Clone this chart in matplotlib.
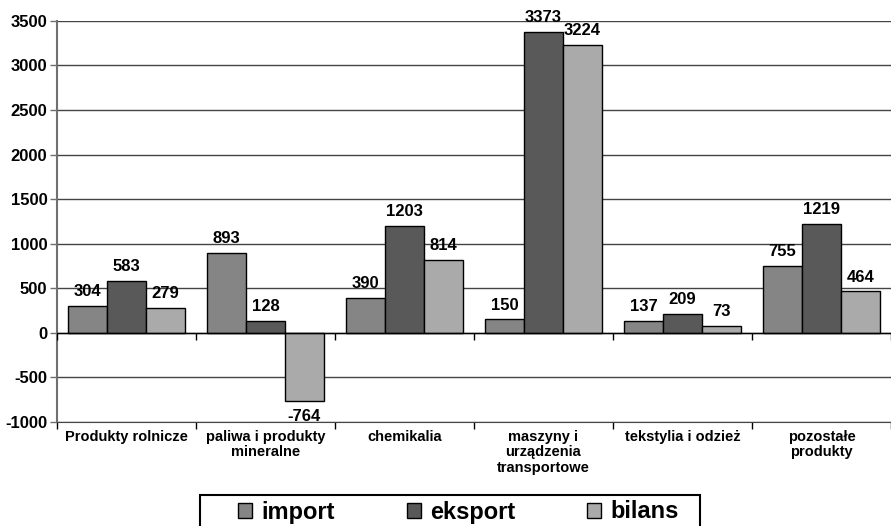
import numpy as np
import matplotlib
matplotlib.use('Agg')
import matplotlib.pyplot as plt
from matplotlib.patches import Rectangle

plt.rcParams['font.family'] = ['Liberation Sans', 'DejaVu Sans']
plt.rcParams['font.weight'] = 'bold'
plt.rcParams['axes.unicode_minus'] = False

categories = ['Produkty rolnicze', 'paliwa i produkty\nmineralne', 'chemikalia',
              'maszyny i\nurządzenia\ntransportowe', 'tekstylia i odzież',
              'pozostałe\nprodukty']
import_vals = [304, 893, 390, 150, 137, 755]
eksport_vals = [583, 128, 1203, 3373, 209, 1219]
bilans_vals = [279, -764, 814, 3224, 73, 464]

series = [('import', import_vals, '#858585'),
          ('eksport', eksport_vals, '#595959'),
          ('bilans', bilans_vals, '#aaaaaa')]

fig = plt.figure(figsize=(8.91, 5.26), dpi=100)
ax = fig.add_axes([57/891, 1 - 422/526, 1 - 57/891, (422 - 20.8)/526])

x = np.arange(len(categories))
w = 0.28
for i, (name, vals, col) in enumerate(series):
    pos = x + (i - 1) * w
    ax.bar(pos, vals, w, color=col, edgecolor='black', linewidth=1,
           label=name, zorder=3)
    for xp, v in zip(pos, vals):
        off = 5 if v >= 0 else -6
        ax.annotate(str(v), (xp, v), xytext=(0, off), textcoords='offset points',
                    ha='center', va='bottom' if v >= 0 else 'top',
                    fontsize=12, fontweight='bold', zorder=4)

ax.set_ylim(-1000, 3500)
ax.set_xlim(-0.5, -0.5 + (891 - 57) / 140)
ax.set_yticks(np.arange(-1000, 3501, 500))
ax.yaxis.grid(True, color='#444444', linewidth=1, zorder=0)
ax.tick_params(axis='y', labelsize=12, length=5, width=1, color='#707070', pad=2)
for lbl in ax.get_yticklabels():
    lbl.set_fontweight('bold')

# category boundaries as major ticks, labels as minor ticks
bounds = np.arange(len(categories) + 1) - 0.5
ax.set_xticks(bounds)
ax.set_xticklabels([])
ax.tick_params(axis='x', which='major', length=5, width=1, color='black')
ax.set_xticks(x, minor=True)
ax.set_xticklabels(categories, minor=True, fontsize=10.5, fontweight='bold',
                   linespacing=1.1)
ax.tick_params(axis='x', which='minor', length=0, pad=6)

# zero line with its own tick marks
ax.axhline(0, color='black', linewidth=1, zorder=5)
ax.vlines(bounds, -75, 0, color='black', linewidth=1, zorder=5)

for s in ['top', 'right']:
    ax.spines[s].set_visible(False)
ax.spines['left'].set_color('#707070')
ax.spines['left'].set_linewidth(1.5)
ax.spines['bottom'].set_color('#444444')

# legend
handles, labels = ax.get_legend_handles_labels()
fig.legend(handles, labels, loc='center left', bbox_to_anchor=(238/891, 1 - 512/526),
           ncol=3, frameon=False, borderpad=0, borderaxespad=0, handlelength=0.6,
           handleheight=0.6, handletextpad=0.38, columnspacing=3.05,
           prop={'weight': 'bold', 'size': 17})
fig.patches.append(Rectangle((200/891, -0.05), 500/891, (526 - 495)/526 + 0.05,
                             transform=fig.transFigure, fill=False,
                             edgecolor='black', linewidth=1.5))

fig.savefig('out.png', dpi=100)
